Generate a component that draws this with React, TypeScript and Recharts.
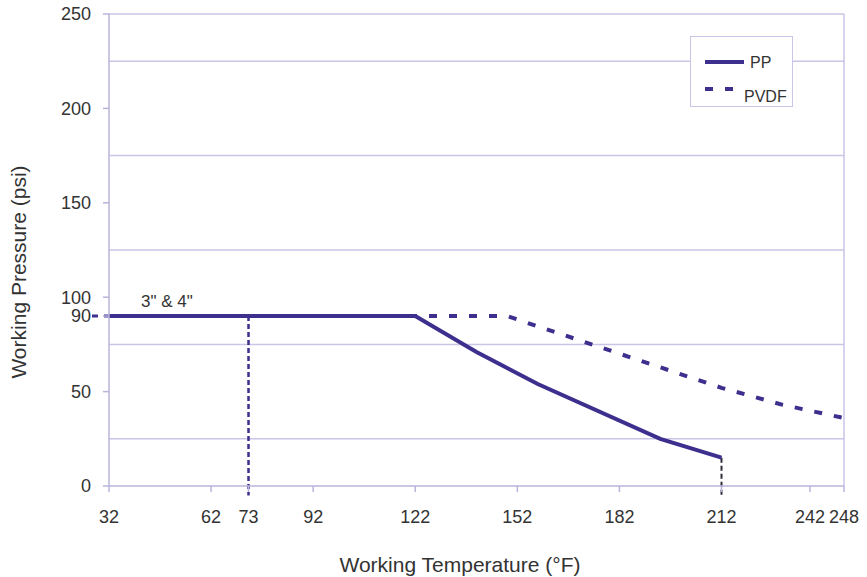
import {
  LineChart,
  Line,
  XAxis,
  YAxis,
  CartesianGrid,
  Legend,
  ReferenceLine,
  ReferenceDot
} from "recharts";

// PP curve (temperature °F -> pressure psi)
const ppTemps = [32, 122, 140, 158, 194, 212];
const ppPressure = [90, 90, 71, 54, 25, 15];

// PVDF curve
const pvdfTemps = [32, 149, 212, 230, 248];
const pvdfPressure = [90, 90, 52, 43, 36];

// axis ticks as printed on the original (the "242" mark sits a little left of its value)
const xTickValues = [32, 62, 73, 92, 122, 152, 182, 212, 238, 248];
const xTickLabels = ["32", "62", "73", "92", "122", "152", "182", "212", "242", "248"];
const yTickValues = [0, 50, 90, 100, 150, 200, 250];
const gridValues = [25, 75, 125, 175, 225, 250];

const ppData = ppTemps.map((t, i) => ({ t, p: ppPressure[i] }));
const pvdfData = pvdfTemps.map((t, i) => ({ t, p: pvdfPressure[i] }));

const LINE = "#3c2f8e";
const GRID = "#c9c5e6";
const AXIS = "#b9b4dc";
const TEXT = "#333333";
const FONT = "'Liberation Sans', Arial, sans-serif";

function LegendBox() {
  return (
    <div
      style={{
        width: 103,
        height: 71,
        boxSizing: "border-box",
        border: `1.5px solid ${GRID}`,
        background: "#fff"
      }}
    >
      <svg width={100} height={68} style={{ display: "block", overflow: "visible" }}>
        <line x1={14} y1={25} x2={53} y2={25} stroke={LINE} strokeWidth={4} />
        <text x={59} y={31} fontSize={16} fill={TEXT}>PP</text>
        <line x1={14} y1={52} x2={43} y2={52} stroke={LINE} strokeWidth={4} strokeDasharray="8 12" />
        <text x={53} y={65} fontSize={16} fill={TEXT}>PVDF</text>
      </svg>
    </div>
  );
}

function XTitle() {
  return (
    <text x={460} y={572} textAnchor="middle" fontSize={21} fill={TEXT}>
      Working Temperature (°F)
    </text>
  );
}

function YTitle() {
  return (
    <text
      x={18}
      y={272}
      transform="rotate(-90 18 272)"
      textAnchor="middle"
      dominantBaseline="central"
      fontSize={21}
      fill={TEXT}
    >
      Working Pressure (psi)
    </text>
  );
}

export default function App() {
  return (
    <div style={{ position: "absolute", left: 0, top: 0, fontFamily: FONT, background: "#fff" }}>
      <LineChart width={867} height={577} margin={{ top: 14, right: 23, left: 0, bottom: 0 }}>
        <CartesianGrid
          stroke={GRID}
          strokeWidth={1.5}
          horizontalValues={gridValues}
          verticalValues={[248]}
        />
        <XAxis
          type="number"
          dataKey="t"
          domain={[32, 248]}
          ticks={xTickValues}
          interval={0}
          tickFormatter={(v: number) => xTickLabels[xTickValues.indexOf(v)] ?? String(v)}
          height={91}
          tickSize={6}
          tickMargin={18}
          stroke={AXIS}
          strokeWidth={1.5}
          tick={{ fontSize: 18, fill: TEXT }}
          label={<XTitle />}
        />
        <YAxis
          type="number"
          dataKey="p"
          domain={[0, 250]}
          ticks={yTickValues}
          interval={0}
          width={109}
          tickSize={6}
          tickMargin={12}
          stroke={AXIS}
          strokeWidth={1.5}
          tick={{ fontSize: 18, fill: TEXT }}
          label={<YTitle />}
        />
        <Legend
          layout="horizontal"
          verticalAlign="middle"
          align="center"
          content={() => <LegendBox />}
          wrapperStyle={{ position: "absolute", left: 690, top: 36, width: 103, height: 71 }}
        />
        <ReferenceLine
          segment={[{ x: 27, y: 90 }, { x: 73, y: 90 }]}
          stroke={LINE}
          strokeWidth={3}
          strokeDasharray="6 6"
          ifOverflow="visible"
        />
        <ReferenceLine
          segment={[{ x: 73, y: 90 }, { x: 73, y: -5 }]}
          stroke={LINE}
          strokeWidth={2.5}
          strokeDasharray="5 3"
          ifOverflow="visible"
        />
        <ReferenceLine
          segment={[{ x: 212, y: 15 }, { x: 212, y: -5 }]}
          stroke="#2e2e3a"
          strokeWidth={2}
          strokeDasharray="5 3"
          ifOverflow="visible"
        />
        <ReferenceDot
          x={49}
          y={90}
          r={0}
          fill="none"
          stroke="none"
          label={{ value: '3" & 4"', position: "top", offset: 9, fontSize: 17, fill: TEXT }}
        />
        <Line
          data={pvdfData}
          dataKey="p"
          type="linear"
          stroke={LINE}
          strokeWidth={4}
          strokeDasharray="8 12"
          dot={false}
          isAnimationActive={false}
        />
        <Line
          data={ppData}
          dataKey="p"
          type="linear"
          stroke={LINE}
          strokeWidth={4}
          dot={false}
          isAnimationActive={false}
        />
      </LineChart>
    </div>
  );
}
